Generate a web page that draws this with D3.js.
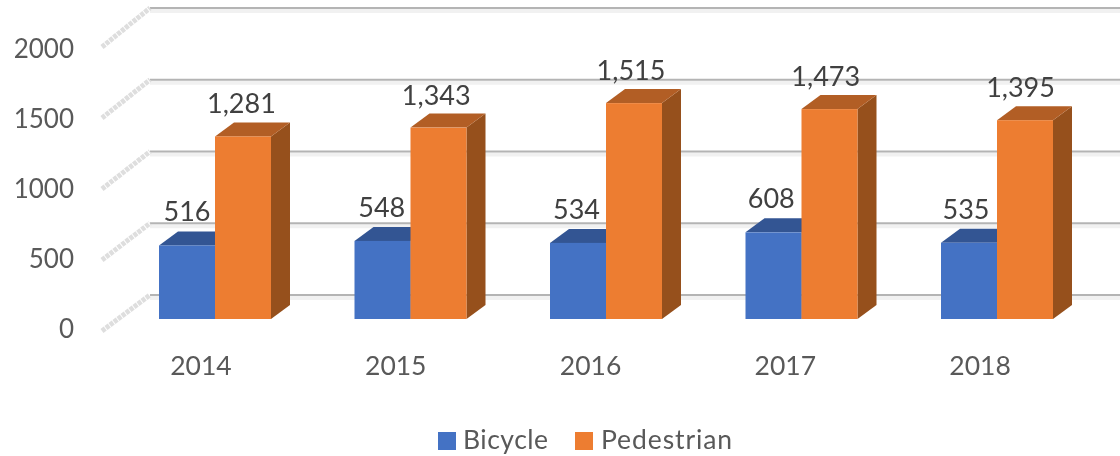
<!DOCTYPE html>
<html lang="en">
  <head>
    <meta charset="utf-8">
    <title>Bicycle and pedestrian counts</title>
    <script type="text/javascript" src="https://cdn.jsdelivr.net/npm/d3@7"></script>
    <style>
    html, body { margin: 0; padding: 0; background: #fff; }
    svg { display: block; filter: blur(0.5px); }
    text { font-family: Lato, sans-serif; }
    .axis text { font-size: 26px; fill: #595959; }
    .axis.years text { font-size: 26.5px; }
    .axis path, .axis line { display: none; }
    .value { font-size: 27px; fill: #404040; text-anchor: middle; }
    .legend-label { font-size: 26.5px; fill: #595959; letter-spacing: 0.9px; }
    </style>
  </head>
  <body>
    <div id="chart"></div>
    <script type="text/javascript">

      const years = ['2014', '2015', '2016', '2017', '2018'];
      const seriesNames = ['Bicycle', 'Pedestrian'];
      const bicycle = [516, 548, 534, 608, 535];
      const pedestrian = [1281, 1343, 1515, 1473, 1395];
      const yTicks = [0, 500, 1000, 1500, 2000];

      const w = 1120, h = 456;
      // fake 3d offset of the bars
      const depth = { x: 19, y: 14 };

      const colors = {
        Bicycle: { front: '#4472c4', top: '#335593', side: '#2c4a80' },
        Pedestrian: { front: '#ed7d31', top: '#b25e25', side: '#96501c' }
      };

      const svg = d3.select('#chart').append('svg')
        .attr('width', w)
        .attr('height', h);

      // scales: front plane for bars, back wall for grid, labels sit a bit apart
      const xBand = d3.scaleBand().domain(years).range([117.5, 1095]);
      const xSeries = d3.scaleBand().domain(seriesNames).range([41.5, 153.5]);
      // year and value labels step a little tighter than the bars
      const xLabel = d3.scaleBand().domain(years).range([103.6, 1077.4]);
      const labelShift = d3.scaleOrdinal().domain(seriesNames).range([-14, 40.5]);
      const yBar = d3.scaleLinear().domain([0, 2000]).range([319, 34]);
      const yWall = d3.scaleLinear().domain([0, 2000]).range([295, 8]);
      const yDepth = d3.scaleLinear().domain([0, 2000]).range([331, 47]);
      const yLabel = d3.scaleLinear().domain([0, 2000]).range([329, 49]);

      // gridlines on the back wall
      const grid = svg.append('g');
      grid.selectAll('.shade')
        .data(yTicks)
        .enter()
        .append('rect')
          .attr('class', 'shade')
          .attr('x', 150)
          .attr('y', d => yWall(d) + 1)
          .attr('width', w - 150)
          .attr('height', 4)
          .attr('fill', '#f1f1f1');
      grid.selectAll('.gridline')
        .data(yTicks)
        .enter()
        .append('line')
          .attr('class', 'gridline')
          .attr('x1', 150)
          .attr('x2', w)
          .attr('y1', d => yWall(d))
          .attr('y2', d => yWall(d))
          .attr('stroke', '#b4b4b4')
          .attr('stroke-width', 2);

      // hatched side wall lines
      grid.selectAll('.depthline')
        .data(yTicks)
        .enter()
        .append('line')
          .attr('class', 'depthline')
          .attr('x1', 102)
          .attr('x2', 150)
          .attr('y1', d => yDepth(d))
          .attr('y2', d => yWall(d))
          .attr('stroke', '#dedede')
          .attr('stroke-width', 5)
          .attr('stroke-dasharray', '4 1');

      // axes
      svg.append('g')
        .attr('class', 'axis')
        .attr('transform', 'translate(74,0)')
        .call(d3.axisLeft(yLabel).tickValues(yTicks).tickSize(0).tickPadding(0).tickFormat(d3.format('d')));

      svg.append('g')
        .attr('class', 'axis years')
        .attr('transform', 'translate(0,356)')
        .call(d3.axisBottom(xLabel).tickSize(0).tickPadding(0));

      // bars, bicycle first so the orange one covers its side
      const series = [
        { name: 'Bicycle', values: bicycle },
        { name: 'Pedestrian', values: pedestrian }
      ];

      const bars = svg.append('g');
      const bw = xSeries.bandwidth();

      series.forEach(function(s) {
        const c = colors[s.name];
        const x0 = function(i) { return xBand(years[i]) + xSeries(s.name); };

        // side face
        bars.selectAll('.side-' + s.name)
          .data(s.values)
          .enter()
          .append('path')
            .attr('class', 'side-' + s.name)
            .attr('fill', c.side)
            .attr('d', function(d, i) {
              const xr = x0(i) + bw;
              return 'M' + xr + ',' + yBar(d)
                + 'L' + (xr + depth.x) + ',' + (yBar(d) - depth.y)
                + 'L' + (xr + depth.x) + ',' + (yBar(0) - depth.y)
                + 'L' + xr + ',' + yBar(0) + 'Z';
            });

        // top face
        bars.selectAll('.top-' + s.name)
          .data(s.values)
          .enter()
          .append('path')
            .attr('class', 'top-' + s.name)
            .attr('fill', c.top)
            .attr('d', function(d, i) {
              const xl = x0(i);
              return 'M' + xl + ',' + yBar(d)
                + 'L' + (xl + depth.x) + ',' + (yBar(d) - depth.y)
                + 'L' + (xl + bw + depth.x) + ',' + (yBar(d) - depth.y)
                + 'L' + (xl + bw) + ',' + yBar(d) + 'Z';
            });

        // front face
        bars.selectAll('.front-' + s.name)
          .data(s.values)
          .enter()
          .append('rect')
            .attr('class', 'front-' + s.name)
            .attr('fill', c.front)
            .attr('x', (d, i) => x0(i))
            .attr('y', d => yBar(d))
            .attr('width', bw)
            .attr('height', d => yBar(0) - yBar(d));
      });

      // value labels
      series.forEach(function(s) {
        svg.selectAll('.value-' + s.name)
          .data(s.values)
          .enter()
          .append('text')
            .attr('class', 'value value-' + s.name)
            .attr('x', (d, i) => xLabel(years[i]) + xLabel.bandwidth() / 2 + labelShift(s.name))
            .attr('y', d => yBar(d) - (s.name === 'Bicycle' ? 24 : 23))
            .text(d => d3.format(',')(d));
      });

      // legend
      const legendX = d3.scaleOrdinal().domain(seriesNames).range([438, 575]);
      const legend = svg.selectAll('.legend')
        .data(seriesNames)
        .enter()
        .append('g')
          .attr('class', 'legend')
          .attr('transform', d => 'translate(' + legendX(d) + ',432)');
      legend.append('rect')
        .attr('width', 18)
        .attr('height', 18)
        .attr('fill', d => colors[d].front);
      legend.append('text')
        .attr('class', 'legend-label')
        .attr('x', d => d === 'Bicycle' ? 25 : 26)
        .attr('y', 17)
        .style('letter-spacing', d => d === 'Bicycle' ? '0.5px' : null)
        .text(d => d);

    </script>
  </body>
</html>
